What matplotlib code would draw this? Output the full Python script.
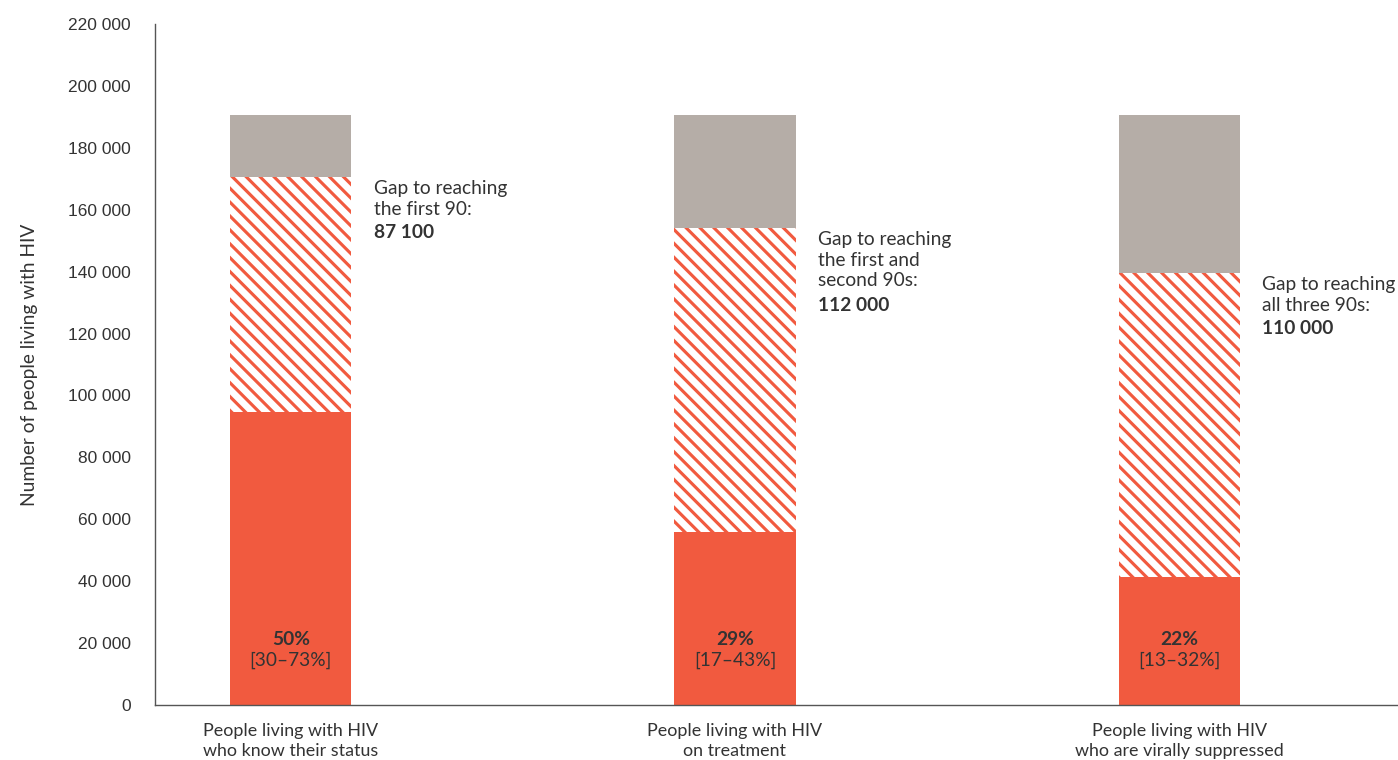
import matplotlib.pyplot as plt
from matplotlib.ticker import FuncFormatter, MultipleLocator

categories = ["People living with HIV\nwho know their status",
              "People living with HIV\non treatment",
              "People living with HIV\nwho are virally suppressed"]
total_plhiv = [190500, 190500, 190500]
achieved = [94500, 56000, 41500]
target_90 = [170500, 154000, 139500]
pct_labels = ["50%", "29%", "22%"]
range_labels = ["[30\u201373%]", "[17\u201343%]", "[13\u201332%]"]
gap_text = ["Gap to reaching\nthe first 90:",
            "Gap to reaching\nthe first and\nsecond 90s:",
            "Gap to reaching\nall three 90s:"]
gap_values = ["87 100", "112 000", "110 000"]

red = "#F15A3F"
grey = "#B5ADA7"
txt = "#333333"

plt.rcParams["font.family"] = ["Lato", "DejaVu Sans"]
plt.rcParams["hatch.linewidth"] = 1.8

fig = plt.figure(figsize=(11.184, 6.08), dpi=125)
ax = fig.add_axes([0.1109, 0.0724, 0.8891, 0.896])

x = list(range(len(categories)))
w = 0.2725
gap_seg = [t - a for t, a in zip(target_90, achieved)]
rest_seg = [tot - t for tot, t in zip(total_plhiv, target_90)]

ax.bar(x, achieved, w, color=red, linewidth=0)
ax.bar(x, gap_seg, w, bottom=achieved, color="white", edgecolor=red,
       hatch="\\\\\\", linewidth=0)
ax.bar(x, rest_seg, w, bottom=target_90, color=grey, linewidth=0)

for i in x:
    ax.annotate(pct_labels[i], (i, 0), xytext=(0, 38), textcoords="offset points",
                ha="center", va="center", fontsize=11, fontweight="bold", color=txt)
    ax.annotate(range_labels[i], (i, 0), xytext=(0, 25.9), textcoords="offset points",
                ha="center", va="center", fontsize=11, color=txt)
    nlines = gap_text[i].count("\n") + 1
    ax.annotate(gap_text[i], (i + w / 2, target_90[i]), xytext=(13, -1.5),
                textcoords="offset points", ha="left", va="top",
                fontsize=11, color=txt, linespacing=1.27)
    ax.annotate(gap_values[i], (i + w / 2, target_90[i]),
                xytext=(13, -1.5 - 12.67 * nlines), textcoords="offset points",
                ha="left", va="top", fontsize=11, fontweight="bold", color=txt)

ax.set_xlim(-0.306, 2.493)
ax.set_ylim(0, 220000)
ax.yaxis.set_major_locator(MultipleLocator(20000))
ax.yaxis.set_major_formatter(FuncFormatter(lambda v, p: f"{int(v):,}".replace(",", " ")))
ax.set_xticks(x)
ax.set_xticklabels(categories, fontsize=10.3, color=txt, linespacing=1.3)
for lab in ax.get_yticklabels():
    lab.set_family(["Liberation Sans", "DejaVu Sans"])
ax.tick_params(axis="y", length=0, pad=14, labelsize=10, labelcolor=txt)
ax.tick_params(axis="x", length=0, pad=10.5)
ax.set_ylabel("Number of people living with HIV", fontsize=11, color=txt, labelpad=17)

for s in ["top", "right"]:
    ax.spines[s].set_visible(False)
for s in ["left", "bottom"]:
    ax.spines[s].set_color("#555555")
    ax.spines[s].set_linewidth(0.8)

fig.savefig("out.png", dpi=125)
